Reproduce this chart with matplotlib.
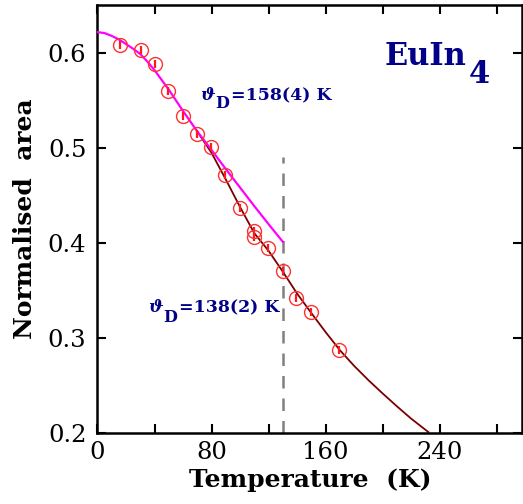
import matplotlib
matplotlib.use("Agg")
import matplotlib.pyplot as plt
from matplotlib.transforms import IdentityTransform

# Data points (Temperature in K, normalised area)
temp = [16, 30.5, 40.5, 49.5, 60, 70, 79.5, 89.5, 100, 109.5, 109.5, 119.5, 130, 139.5, 150, 169.5]
area = [0.6084, 0.6032, 0.5881, 0.5600, 0.5337, 0.5147, 0.5003, 0.4716, 0.4363,
        0.4119, 0.4060, 0.3944, 0.3708, 0.3418, 0.3271, 0.2874]
area_err = [0.0042] * 16

# Debye fit curve theta_D = 158(4) K (magenta)
fit1_T = [0, 5, 10, 15, 20, 25, 30, 35, 40, 50, 60, 70, 80, 90, 100, 110, 120, 130]
fit1_A = [0.6215, 0.6205, 0.6175, 0.6138, 0.6090, 0.6040, 0.5985, 0.5905, 0.5815, 0.5610,
          0.5385, 0.5170, 0.4975, 0.4775, 0.4580, 0.4385, 0.4195, 0.4010]

# Debye fit curve theta_D = 138(2) K (dark red)
fit2_T = [70, 80, 90, 100, 110, 120, 130, 140, 150, 160, 170, 180, 190, 200, 210, 220, 232]
fit2_A = [0.5170, 0.4945, 0.4665, 0.4375, 0.4100, 0.3915, 0.3695, 0.3465, 0.3260, 0.3060,
          0.2870, 0.2705, 0.2555, 0.2415, 0.2280, 0.2150, 0.2010]

vline_T = 130
vline_top = 0.49

xticks = [0, 80, 160, 240]
yticks = [0.2, 0.3, 0.4, 0.5, 0.6]

navy = "#000088"
W, H = 523, 504

fig = plt.figure(figsize=(W / 100, H / 100), dpi=100)
ax = fig.add_axes([0.1864, 0.1409, 0.8126, 0.8491])

ax.plot(fit2_T, fit2_A, color="#7a0000", lw=1.3, zorder=2)
ax.plot(fit1_T, fit1_A, color="#ff00ff", lw=1.6, zorder=3)
ax.plot([vline_T, vline_T], [0.2, vline_top], color="#808080", lw=1.8,
        dashes=(5, 4), zorder=1)
ax.errorbar(temp, area, yerr=area_err, fmt="none", ecolor="#ff1a1a", elinewidth=1.6,
            capsize=0, zorder=4)
ax.plot(temp, area, "o", mfc="none", mec="#ff3030", mew=1.0, ms=10, zorder=5)

ax.set_xlim(0, 298)
ax.set_ylim(0.2, 0.65)
ax.set_xticks(list(range(0, 298, 40)))
ax.set_xticklabels([str(t) if t in xticks else "" for t in range(0, 298, 40)])
ax.set_yticks(yticks)
ax.set_yticklabels([f"{v:.1f}" for v in yticks])

ax.tick_params(direction="in", length=6.5, width=1.5, top=True, right=True,
               labelsize=17.5)
ax.tick_params(axis="x", pad=6)
ax.tick_params(axis="y", pad=8)
for lab in ax.get_xticklabels() + ax.get_yticklabels():
    lab.set_family("DejaVu Serif")
for s in ax.spines.values():
    s.set_linewidth(1.8)

ax.set_xlabel("Temperature  (K)", family="DejaVu Serif", fontweight="bold",
              fontsize=18, labelpad=3)
ax.set_ylabel("Normalised  area", family="DejaVu Serif", fontweight="bold",
              fontsize=18, labelpad=8)

renderer = fig.canvas.get_renderer()


def chain(x0, y0, parts):
    """Place text pieces one after another in pixel coordinates (from bottom-left)."""
    x = x0
    for txt, fs, dy, gap, style in parts:
        t = fig.text(x + gap, y0 + dy, txt, transform=IdentityTransform(),
                     color=navy, fontsize=fs, fontweight="bold", fontstyle=style,
                     family="DejaVu Serif", ha="left", va="baseline")
        x = t.get_window_extent(renderer).x1 + gap


# EuIn4 title
chain(385, H - 65, [("EuIn", 22, 0, 0, "normal"), ("4", 22, -18, 2, "normal")])
# theta_D labels
chain(200, H - 100, [("ϑ", 12.5, 0, 0, "italic"), ("D", 11.5, -8, 1, "normal"),
                     ("=158(4) K", 12.5, 0, 0, "normal")])
chain(148, H - 312, [("ϑ", 12.5, 0, 0, "italic"), ("D", 11.5, -10, 1, "normal"),
                     ("=138(2) K", 12.5, 0, 0, "normal")])

fig.savefig("out.png", dpi=100)
